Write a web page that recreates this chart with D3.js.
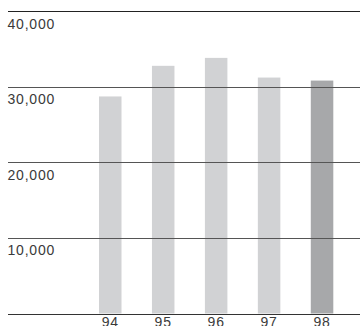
<!DOCTYPE html>
<html>
<head>
<meta charset="utf-8">
<script src="https://cdn.jsdelivr.net/npm/d3@7"></script>
<style>
  html, body { margin: 0; padding: 0; background: #fff; }
  svg { display: block; }
</style>
</head>
<body>
<svg id="chart" width="360" height="326"></svg>
<script>
// Annual totals, 1994-1998
const years = ["94", "95", "96", "97", "98"];
const values = [28700, 32750, 33800, 31200, 30800];
const gridValues = [10000, 20000, 30000, 40000];
const gridLabels = ["10,000", "20,000", "30,000", "40,000"];

const svg = d3.select("#chart");
const font = "'Liberation Sans', Arial, Helvetica, sans-serif";

const y = d3.scaleLinear().domain([0, 40000]).range([313.5, 11]);
const x = d3.scaleBand().domain(years).range([99, 333.3])
  .paddingInner(0.575).paddingOuter(0);

// Bars: earlier years light grey, latest year darker
svg.append("g").selectAll("rect")
  .data(values)
  .join("rect")
  .attr("x", (d, i) => x(years[i]))
  .attr("y", d => y(d))
  .attr("width", x.bandwidth())
  .attr("height", d => y(0) - y(d))
  .attr("fill", (d, i) => i === values.length - 1 ? "#a7a8aa" : "#d1d2d4");

// Horizontal gridlines drawn over the bars, with labels beneath each line
const grid = svg.append("g");
grid.selectAll("line")
  .data(gridValues)
  .join("line")
  .attr("x1", 8).attr("x2", 360)
  .attr("y1", d => Math.round(y(d)) + 0.5)
  .attr("y2", d => Math.round(y(d)) + 0.5)
  .attr("stroke", (d, i) => i === gridValues.length - 1 ? "#222" : "#555")
  .attr("stroke-width", 1);

grid.selectAll("text")
  .data(gridValues)
  .join("text")
  .attr("x", 7.5)
  .attr("y", d => y(d) + 17.6)
  .attr("font-family", font)
  .attr("font-size", 14)
  .attr("letter-spacing", 0.8)
  .attr("fill", "#3a3a3a")
  .text((d, i) => gridLabels[i]);

// Baseline and year labels
const xAxis = d3.axisBottom(x).tickSize(0).tickPadding(3);
const axisG = svg.append("g")
  .attr("transform", `translate(0,${Math.round(y(0)) + 0.5})`)
  .call(xAxis);
axisG.select(".domain").remove();
axisG.selectAll("text")
  .attr("font-family", font)
  .attr("font-size", 14)
  .attr("letter-spacing", 0.8)
  .attr("fill", "#3a3a3a");
svg.append("line")
  .attr("x1", 8).attr("x2", 360)
  .attr("y1", Math.round(y(0)) + 0.5).attr("y2", Math.round(y(0)) + 0.5)
  .attr("stroke", "#333").attr("stroke-width", 1);
</script>
</body>
</html>
